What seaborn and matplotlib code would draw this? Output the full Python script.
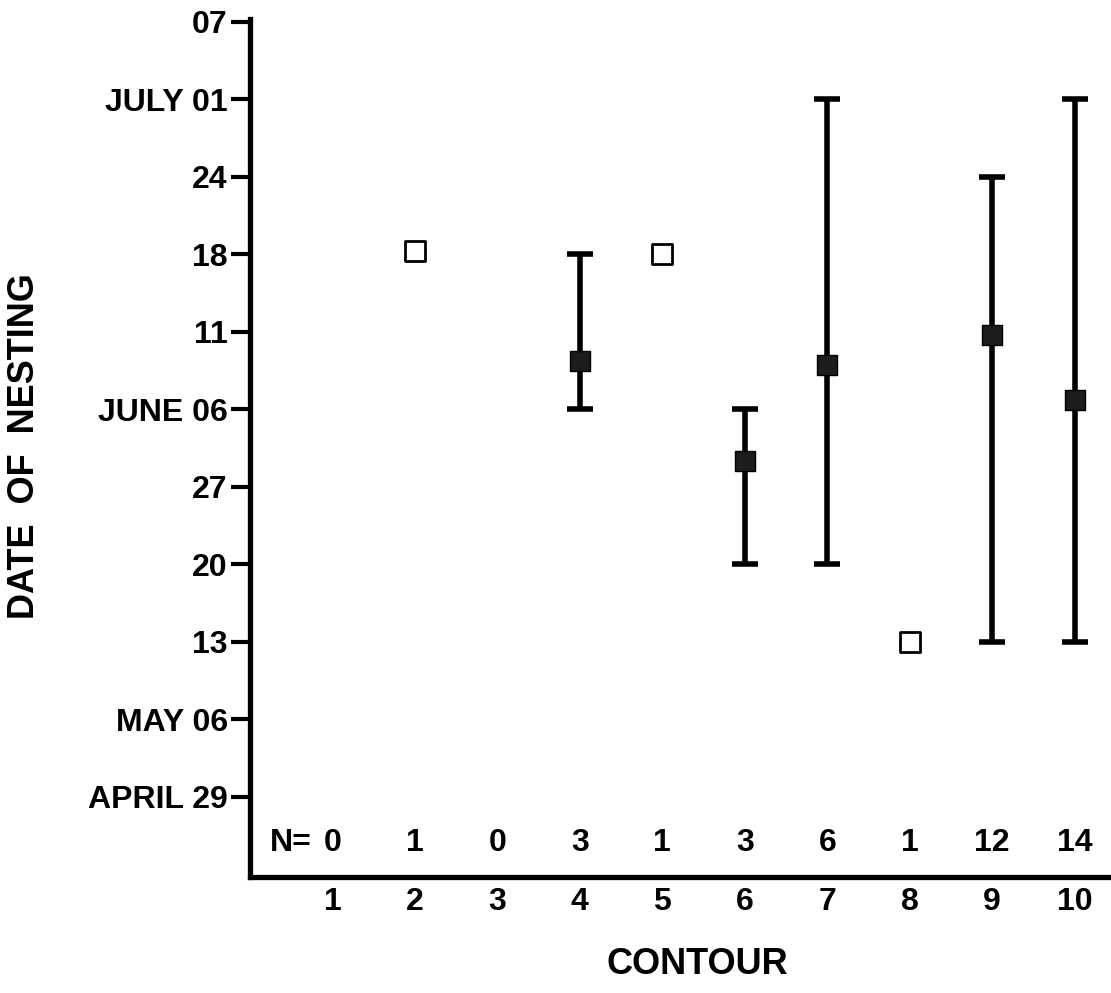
import matplotlib
matplotlib.use("Agg")
import matplotlib.pyplot as plt
import seaborn as sns
import pandas as pd

# Week slots on the date axis (evenly spaced, labelled by calendar date)
date_labels = ["APRIL 29", "MAY 06", "13", "20", "27", "JUNE 06",
               "11", "18", "24", "JULY 01", "07"]

contours = [1, 2, 3, 4, 5, 6, 7, 8, 9, 10]
n_nests = [0, 1, 0, 3, 1, 3, 6, 1, 12, 14]

# Contours with a single nest (open squares), date in week-slot units
single_contour = [2, 5, 8]
single_date = [7.05, 7.0, 2.0]

# Contours with several nests: mean date and earliest/latest date
multi_contour = [4, 6, 7, 9, 10]
multi_mean = [5.62, 4.34, 5.57, 5.96, 5.12]
multi_low = [5, 3, 3, 2, 2]
multi_high = [7, 5, 9, 8, 9]

sns.set_style("ticks")
plt.rcParams["font.family"] = ["Liberation Sans", "DejaVu Sans"]
plt.rcParams["font.weight"] = "bold"
for key in ["text.color", "axes.labelcolor", "xtick.color", "ytick.color", "axes.edgecolor"]:
    plt.rcParams[key] = "black"

fig = plt.figure(figsize=(11.11, 9.93), dpi=100)
ax = fig.add_axes([0.225, 0.117, 0.775, 0.864])

multi = pd.DataFrame({"contour": multi_contour, "mean": multi_mean,
                      "low": multi_low, "high": multi_high})
single = pd.DataFrame({"contour": single_contour, "date": single_date})

# Range bars with caps
ax.vlines(multi["contour"], multi["low"], multi["high"], color="black", lw=4.0, zorder=2)
cap_w = 0.16
ax.hlines(multi["low"], multi["contour"] - cap_w, multi["contour"] + cap_w, color="black", lw=4.0, zorder=2)
ax.hlines(multi["high"], multi["contour"] - cap_w, multi["contour"] + cap_w, color="black", lw=4.0, zorder=2)

# Mean markers
sns.scatterplot(data=multi, x="contour", y="mean", ax=ax, marker="s", s=200,
                color="#1c1c1c", edgecolor="black", linewidth=1, zorder=3, legend=False)
# Single-nest markers
sns.scatterplot(data=single, x="contour", y="date", ax=ax, marker="s", s=190,
                facecolor="white", edgecolor="black", linewidth=2, zorder=3, legend=False)

ax.set_xlim(0, 10.44)
ax.set_ylim(-1.03, 10.04)

ax.set_yticks(range(len(date_labels)))
ax.set_yticklabels(date_labels, fontsize=23, fontweight="bold")
ax.set_xticks(contours)
ax.set_xticklabels([str(c) for c in contours], fontsize=23, fontweight="bold")
ax.tick_params(axis="y", direction="out", length=14, width=3, pad=2)
ax.tick_params(axis="x", length=0, pad=7)

for s in ["top", "right"]:
    ax.spines[s].set_visible(False)
for s in ["left", "bottom"]:
    ax.spines[s].set_linewidth(3.8)

# Sample sizes above the contour axis
for c, n in zip(contours, n_nests):
    ax.text(c, -0.59, str(n), ha="center", va="center", fontsize=23, fontweight="bold")
ax.text(contours[0] - 0.25, -0.59, "N=", ha="right", va="center", fontsize=23, fontweight="bold")

ax.set_xlabel("")
ax.set_ylabel("")
fig.text(697 / 1111, 1 - 964 / 993, "CONTOUR", ha="center", va="center",
         fontsize=26, fontweight="bold")
fig.text(25 / 1111, 1 - 446 / 993, "DATE  OF  NESTING", ha="center", va="center",
         rotation=90, fontsize=26, fontweight="bold")

fig.savefig("out.png", dpi=100, facecolor="white")
